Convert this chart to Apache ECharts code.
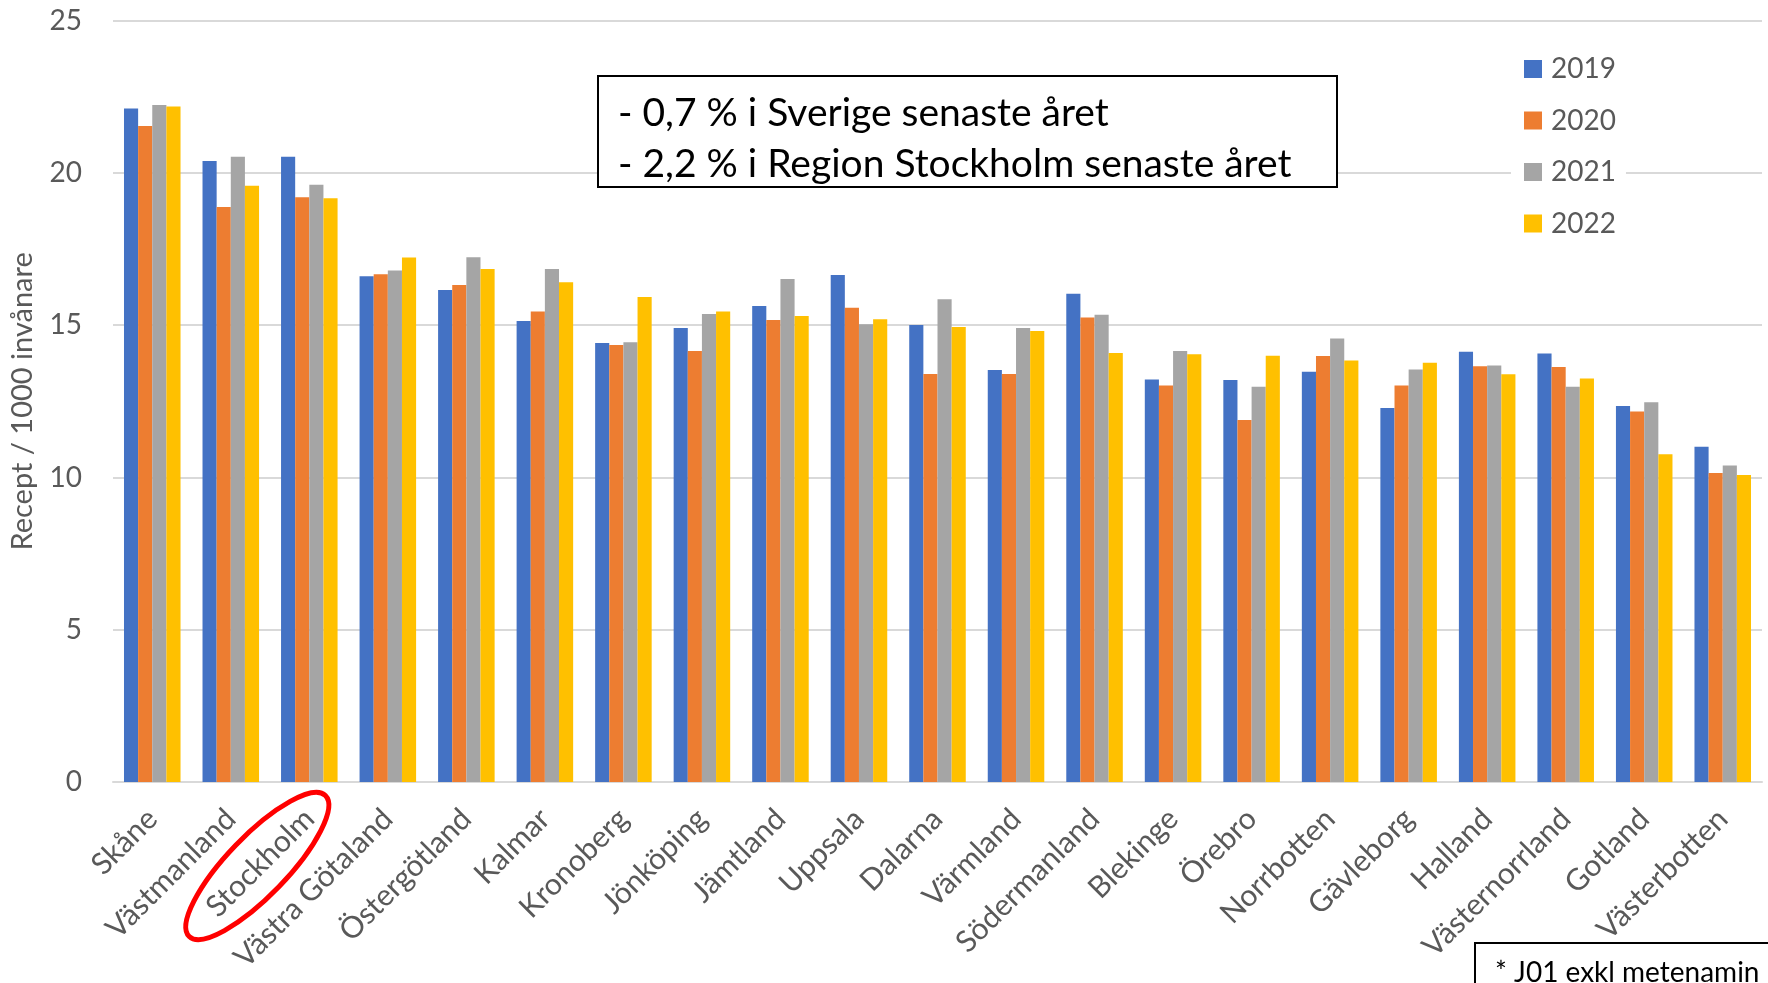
<!DOCTYPE html>
<html>
<head>
    <meta charset="utf-8">
    <script src="https://cdn.jsdelivr.net/npm/echarts@6.0.0/dist/echarts.min.js"></script>
    <style>
        html, body { margin: 0; padding: 0; background: #fff; }
        #chart { width: 1768px; height: 983px; }
    </style>
</head>
<body>
<div id="chart"></div>
<script>
    const categories = ['Skåne', 'Västmanland', 'Stockholm', 'Västra Götaland', 'Östergötland', 'Kalmar',
        'Kronoberg', 'Jönköping', 'Jämtland', 'Uppsala', 'Dalarna', 'Värmland', 'Södermanland', 'Blekinge',
        'Örebro', 'Norrbotten', 'Gävleborg', 'Halland', 'Västernorrland', 'Gotland', 'Västerbotten']
    const years = ['2019', '2020', '2021', '2022']
    const y2019 = [22.12, 20.39, 20.53, 16.61, 16.16, 15.14, 14.42, 14.91, 15.63, 16.65, 15.01, 13.53, 16.03, 13.22, 13.20, 13.47, 12.28, 14.13, 14.07, 12.35, 11.01]
    const y2020 = [21.54, 18.88, 19.20, 16.67, 16.32, 15.45, 14.35, 14.15, 15.17, 15.57, 13.40, 13.40, 15.25, 13.02, 11.89, 13.99, 13.02, 13.65, 13.63, 12.17, 10.15]
    const y2021 = [22.23, 20.53, 19.61, 16.80, 17.23, 16.85, 14.44, 15.37, 16.52, 15.03, 15.85, 14.91, 15.34, 14.15, 12.98, 14.56, 13.55, 13.68, 12.98, 12.47, 10.39]
    const y2022 = [22.18, 19.58, 19.17, 17.22, 16.85, 16.41, 15.93, 15.45, 15.30, 15.20, 14.94, 14.81, 14.09, 14.05, 14.00, 13.84, 13.77, 13.39, 13.25, 10.76, 10.08]
    const colors = ['#4472C4', '#ED7D31', '#A5A5A5', '#FFC000']
    const noteLines = ['- 0,7 % i Sverige senaste året', '- 2,2 % i Region Stockholm senaste året']
    const footnote = '* J01 exkl metenamin'
    const highlighted = 'Stockholm'

    const font = 'Lato'
    const chart = echarts.init(document.getElementById('chart'))
    const seriesData = [y2019, y2020, y2021, y2022]

    const option = {
        animation: false,
        color: colors,
        textStyle: { fontFamily: font },
        grid: {
            left: 113, right: 6, top: 20.7, bottom: 201,
            containLabel: false,
            outerBoundsMode: 'none'
        },
        legend: {
            orient: 'vertical',
            left: 1511, top: 45,
            padding: [10, 10, 10, 13],
            backgroundColor: '#fff',
            icon: 'rect',
            itemWidth: 18, itemHeight: 18,
            itemGap: 23.5,
            textStyle: { fontSize: 28, lineHeight: 28, color: '#595959', fontFamily: font, padding: [0, 0, 0, 4] },
            data: years
        },
        xAxis: {
            type: 'category',
            data: categories,
            axisTick: { show: false },
            axisLine: { lineStyle: { color: '#d9d9d9', width: 2 } },
            axisLabel: {
                interval: 0, rotate: 45, fontSize: 30, color: '#595959',
                margin: 32, fontFamily: font
            }
        },
        yAxis: {
            type: 'value',
            min: 0, max: 25, interval: 5,
            name: 'Recept / 1000 invånare',
            nameLocation: 'middle',
            nameGap: 76,
            nameTextStyle: { fontSize: 29, color: '#595959', fontFamily: font },
            axisLine: { show: false },
            axisTick: { show: false },
            axisLabel: { fontSize: 28, color: '#595959', margin: 31, fontFamily: font },
            splitLine: { lineStyle: { color: '#d9d9d9', width: 2 } }
        },
        series: years.map((y, i) => ({
            name: y,
            type: 'bar',
            data: seriesData[i],
            barGap: '0%',
            barCategoryGap: '28%'
        }))
    }
    chart.setOption(option)

    // annotations: note box, footnote box, ellipse round the highlighted label
    const px = chart.convertToPixel({ xAxisIndex: 0 }, highlighted)
    const py = chart.convertToPixel({ yAxisIndex: 0 }, 0)
    chart.setOption({
        graphic: [
            {
                type: 'group', left: 597, top: 75,
                children: [
                    { type: 'rect', shape: { x: 0, y: 0, width: 739, height: 111 },
                      style: { fill: '#fff', stroke: '#000', lineWidth: 2 } },
                    { type: 'text', x: 20, y: 37,
                      style: { text: noteLines[0], fontSize: 39, fontFamily: font, fill: '#000', textVerticalAlign: 'middle' } },
                    { type: 'text', x: 20, y: 88,
                      style: { text: noteLines[1], fontSize: 39, fontFamily: font, fill: '#000', textVerticalAlign: 'middle' } }
                ]
            },
            {
                type: 'group', left: 1474, top: 942,
                children: [
                    { type: 'rect', shape: { x: 0, y: 0, width: 320, height: 80 },
                      style: { fill: '#fff', stroke: '#000', lineWidth: 2 } },
                    { type: 'text', x: 20, y: 30,
                      style: { text: footnote, fontSize: 28, fontFamily: font, fill: '#000', textVerticalAlign: 'middle' } }
                ]
            },
            {
                type: 'ellipse',
                x: px - 52, y: py + 84,
                rotation: 46 * Math.PI / 180,
                shape: { cx: 0, cy: 0, rx: 98, ry: 30 },
                style: { fill: 'none', stroke: '#FF0000', lineWidth: 5 },
                z: 100
            }
        ]
    })
</script>
</body>
</html>
